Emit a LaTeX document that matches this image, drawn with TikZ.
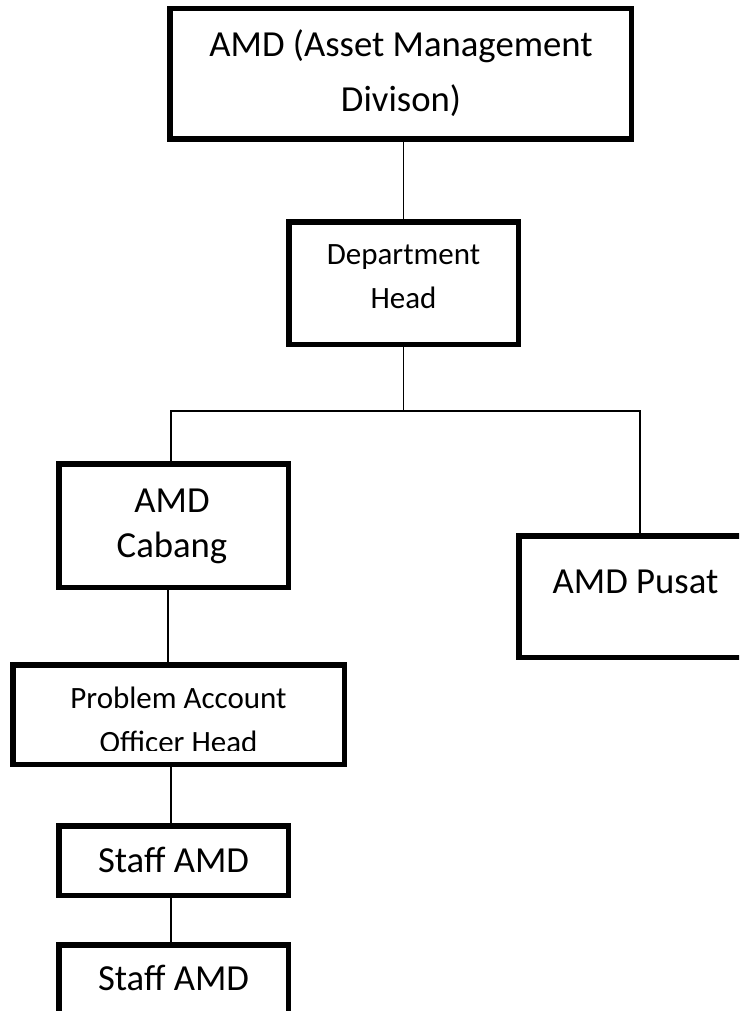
\documentclass[tikz,border=0pt]{standalone}
\usepackage{fontspec}
\setmainfont{Carlito}
\begin{document}
\begin{tikzpicture}[x=1pt,y=-1pt,
  box/.style={draw=black,line width=5.5pt,rectangle,inner sep=0pt,fill=none},
  conn/.style={draw=black,line width=1.6pt},
  big/.style={anchor=base,inner sep=0pt,font=\fontsize{36.7}{44}\selectfont},
  small/.style={anchor=base,inner sep=0pt,font=\fontsize{31}{38}\selectfont}]
\clip (0,0) rectangle (739,1011);
% boxes (outer edges minus line width)
\node[box,minimum width=461.5pt,minimum height=130.5pt] (top) at (400.5,74) {};
\node[box,minimum width=229.5pt,minimum height=122.5pt] (dept) at (403.5,283) {};
\node[box,minimum width=229.5pt,minimum height=123.5pt] (cabang) at (173.5,525.5) {};
\node[box,minimum width=233.5pt,minimum height=121.5pt] (pusat) at (635.5,596.5) {};
\node[box,minimum width=331.5pt,minimum height=99.5pt] (pao) at (178.5,714.5) {};
\node[box,minimum width=229.5pt,minimum height=69.5pt] (staffa) at (173.5,860.5) {};
\node[box,minimum width=229.5pt,minimum height=69.5pt] (staffb) at (173.5,979.5) {};
% texts
\node[big] (toptA) at (401,57) {AMD (Asset Management};
\node[big] (toptB) at (401,112) {Divison)};
\node[small] (depttA) at (403.5,264) {Department};
\node[small] (depttB) at (403.5,308) {Head};
\node[big] (cabangtA) at (172,512) {AMD};
\node[big] (cabangtB) at (172,557) {Cabang};
\node[big] (pusatt) at (635.5,593) {AMD Pusat};
\node[small] (paotA) at (178.5,708) {Problem Account};
\begin{scope}
\clip (0,0) rectangle (739,750);
\node[small] (paotB) at (178.5,752) {Officer Head};
\end{scope}
\node[big] (staffat) at (173.5,872) {Staff AMD};
\node[big] (staffbt) at (173.5,990) {Staff AMD};
% connectors
\coordinate (busL) at (171,411);
\coordinate (busR) at (640,411);
\draw[conn] (dept.north) -- (dept.north |- top.south);
\draw[conn] (dept.south) -- (dept.south |- busL);
\draw[conn] (busL |- cabang.north) -- (busL) -- (busR) -- (busR |- pusat.north);
\draw[conn] ([xshift=-5.5pt]cabang.south) -- ([xshift=-5.5pt]cabang.south |- pao.north);
\draw[conn] ([xshift=-2.5pt]staffa.north) -- ([xshift=-2.5pt]staffa.north |- pao.south);
\draw[conn] ([xshift=-2.5pt]staffa.south) -- ([xshift=-2.5pt]staffa.south |- staffb.north);
\end{tikzpicture}
\end{document}
